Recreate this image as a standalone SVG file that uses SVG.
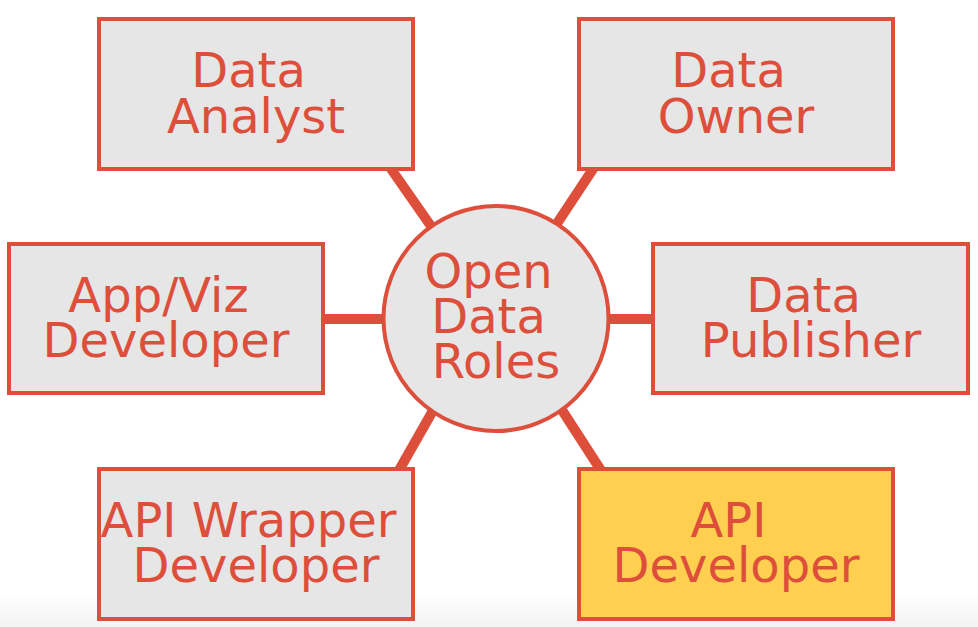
<svg xmlns="http://www.w3.org/2000/svg" width="978" height="627" viewBox="0 0 978 627">
  <defs>
    <linearGradient id="bgfade" x1="0" y1="0" x2="0" y2="1">
      <stop offset="0" stop-color="#ffffff"/>
      <stop offset="1" stop-color="#f3f3f3"/>
    </linearGradient>
  </defs>
  <style>
    .box { fill: #e6e6e6; stroke: #dd4f3b; stroke-width: 4; }
    .hl { fill: #ffd04f; }
    .conn { stroke: #dd4f3b; stroke-width: 10; fill: none; }
    .lbl { font-family: "DejaVu Sans", "Liberation Sans", sans-serif; font-size: 48px; fill: #dd4f3b; text-anchor: middle; }
  </style>
  <rect x="0" y="0" width="978" height="627" fill="#ffffff"/>
  <rect x="0" y="595" width="978" height="32" fill="url(#bgfade)"/>

  <g id="connectors">
    <line class="conn" x1="389" y1="166" x2="433" y2="229"/>
    <line class="conn" x1="595" y1="166" x2="554" y2="228"/>
    <line class="conn" x1="322" y1="319" x2="390" y2="319"/>
    <line class="conn" x1="602" y1="319" x2="656" y2="319"/>
    <line class="conn" x1="435" y1="407" x2="398" y2="472"/>
    <line class="conn" x1="560" y1="407" x2="602" y2="472"/>
  </g>

  <g id="node-data-analyst">
    <rect class="box" x="99" y="19" width="314" height="150"/>
    <text class="lbl" x="248.5" y="87">Data</text>
    <text class="lbl" x="256" y="133">Analyst</text>
  </g>

  <g id="node-data-owner">
    <rect class="box" x="579" y="19" width="314" height="150"/>
    <text class="lbl" x="728.5" y="87">Data</text>
    <text class="lbl" x="736" y="133">Owner</text>
  </g>

  <g id="node-appviz-developer">
    <rect class="box" x="9" y="244" width="314" height="149"/>
    <text class="lbl" x="158.5" y="312">App/Viz</text>
    <text class="lbl" x="166" y="357">Developer</text>
  </g>

  <g id="node-data-publisher">
    <rect class="box" x="653" y="244" width="315" height="149"/>
    <text class="lbl" x="803.5" y="312">Data</text>
    <text class="lbl" x="811" y="357">Publisher</text>
  </g>

  <g id="node-api-wrapper-developer">
    <rect class="box" x="99" y="469" width="314" height="150"/>
    <text class="lbl" x="248.5" y="537">API Wrapper</text>
    <text class="lbl" x="256" y="582">Developer</text>
  </g>

  <g id="node-api-developer">
    <rect class="box hl" x="579" y="469" width="314" height="150"/>
    <text class="lbl" x="728.5" y="537">API</text>
    <text class="lbl" x="736" y="582">Developer</text>
  </g>

  <g id="node-open-data-roles">
    <circle class="box" cx="496" cy="318.5" r="112.5"/>
    <text class="lbl" x="488.5" y="288">Open</text>
    <text class="lbl" x="488.5" y="333">Data</text>
    <text class="lbl" x="496" y="378">Roles</text>
  </g>
</svg>
